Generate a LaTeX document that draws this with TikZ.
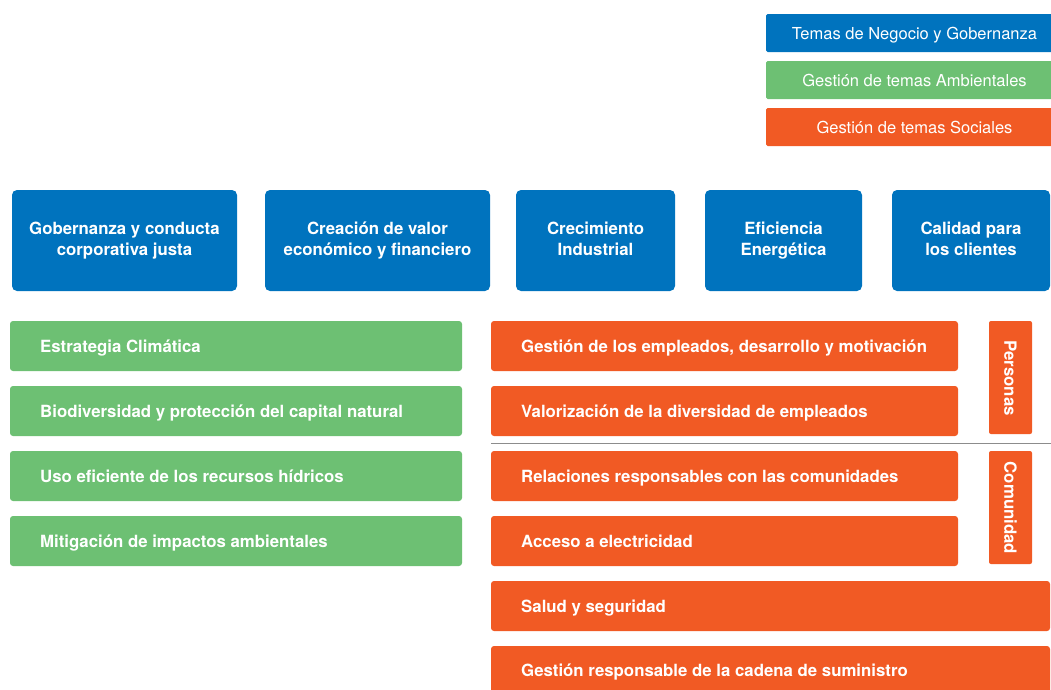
\documentclass[tikz,border=0pt]{standalone}
\usepackage{fontspec}
\setmainfont{TeX Gyre Heros}
\definecolor{govblue}{RGB}{0,115,190}
\definecolor{envgreen}{RGB}{109,192,115}
\definecolor{socorange}{RGB}{241,90,36}
\definecolor{rulegray}{RGB}{140,140,140}
\begin{document}
\begin{tikzpicture}[x=1pt,y=-1pt,
  txt/.style={font=\fontsize{16.5}{21}\selectfont, text=white, inner sep=0pt},
  boldtxt/.style={font=\fontsize{16.8}{21}\selectfont\bfseries, text=white, inner sep=0pt}]
\useasboundingbox (0,0) rectangle (1051,689);

% legend
\fill[govblue,rounded corners=1.5pt] (766,14) rectangle (1056,52);
\node[txt, anchor=base] (lgov) at (914.5,39) {Temas de Negocio y Gobernanza};
\fill[envgreen,rounded corners=1.5pt] (766,61) rectangle (1056,99);
\node[txt, anchor=base] (lenv) at (914.5,86) {Gestión de temas Ambientales};
\fill[socorange,rounded corners=1.5pt] (766,108) rectangle (1056,146);
\node[txt, anchor=base] (lsoc) at (914.5,133) {Gestión de temas Sociales};

% governance pillars: two centred lines each
\newcommand{\pillarbox}[5]{%
  \fill[govblue,rounded corners=5pt] (#2,190) rectangle (#3,291);
  \node[boldtxt, anchor=base] (#1) at ({(#2+#3)/2},234) {#4};
  \node[boldtxt, anchor=base] (#1b) at ({(#2+#3)/2},255) {#5};}
\pillarbox{p1}{12}{237}{Gobernanza y conducta}{corporativa justa}
\pillarbox{p2}{265}{490}{Creación de valor}{económico y financiero}
\pillarbox{p3}{516}{675}{Crecimiento}{Industrial}
\pillarbox{p4}{705}{862}{Eficiencia}{Energética}
\pillarbox{p5}{892}{1050}{Calidad para}{los clientes}

% topic bars
\newcommand{\topicbar}[7]{%
  \fill[#2,rounded corners=3pt] (#3,#4) rectangle (#5,#6);
  \node[boldtxt, anchor=base west] (#1) at ({#3+30},{(#4+#6)/2+6}) {#7};}
\topicbar{e1}{envgreen}{10}{321}{462}{371}{Estrategia Climática}
\topicbar{e2}{envgreen}{10}{386}{462}{436}{Biodiversidad y protección del capital natural}
\topicbar{e3}{envgreen}{10}{451}{462}{501}{Uso eficiente de los recursos hídricos}
\topicbar{e4}{envgreen}{10}{516}{462}{566}{Mitigación de impactos ambientales}

\topicbar{s1}{socorange}{491}{321}{958}{371}{Gestión de los empleados, desarrollo y motivación}
\topicbar{s2}{socorange}{491}{386}{958}{436}{Valorización de la diversidad de empleados}
\topicbar{s3}{socorange}{491}{451}{958}{501}{Relaciones responsables con las comunidades}
\topicbar{s4}{socorange}{491}{516}{958}{566}{Acceso a electricidad}
\topicbar{s5}{socorange}{491}{581}{1050}{631}{Salud y seguridad}
\fill[socorange,rounded corners=3pt] (491,646) rectangle (1050,700);
\node[boldtxt, anchor=base west] (s6) at (521,676) {Gestión responsable de la cadena de suministro};

% group tags
\fill[socorange,rounded corners=2pt] (989,321) rectangle (1032,434);
\node[boldtxt, rotate=-90] (tpers) at (1010.5,378) {Personas};
\fill[socorange,rounded corners=2pt] (989,451) rectangle (1032,564);
\node[boldtxt, rotate=-90] (tcom) at (1010.5,508) {Comunidad};

% divider between groups
\draw[rulegray, line width=1.2pt] (491,443.5) -- (1051,443.5);
\end{tikzpicture}
\end{document}
